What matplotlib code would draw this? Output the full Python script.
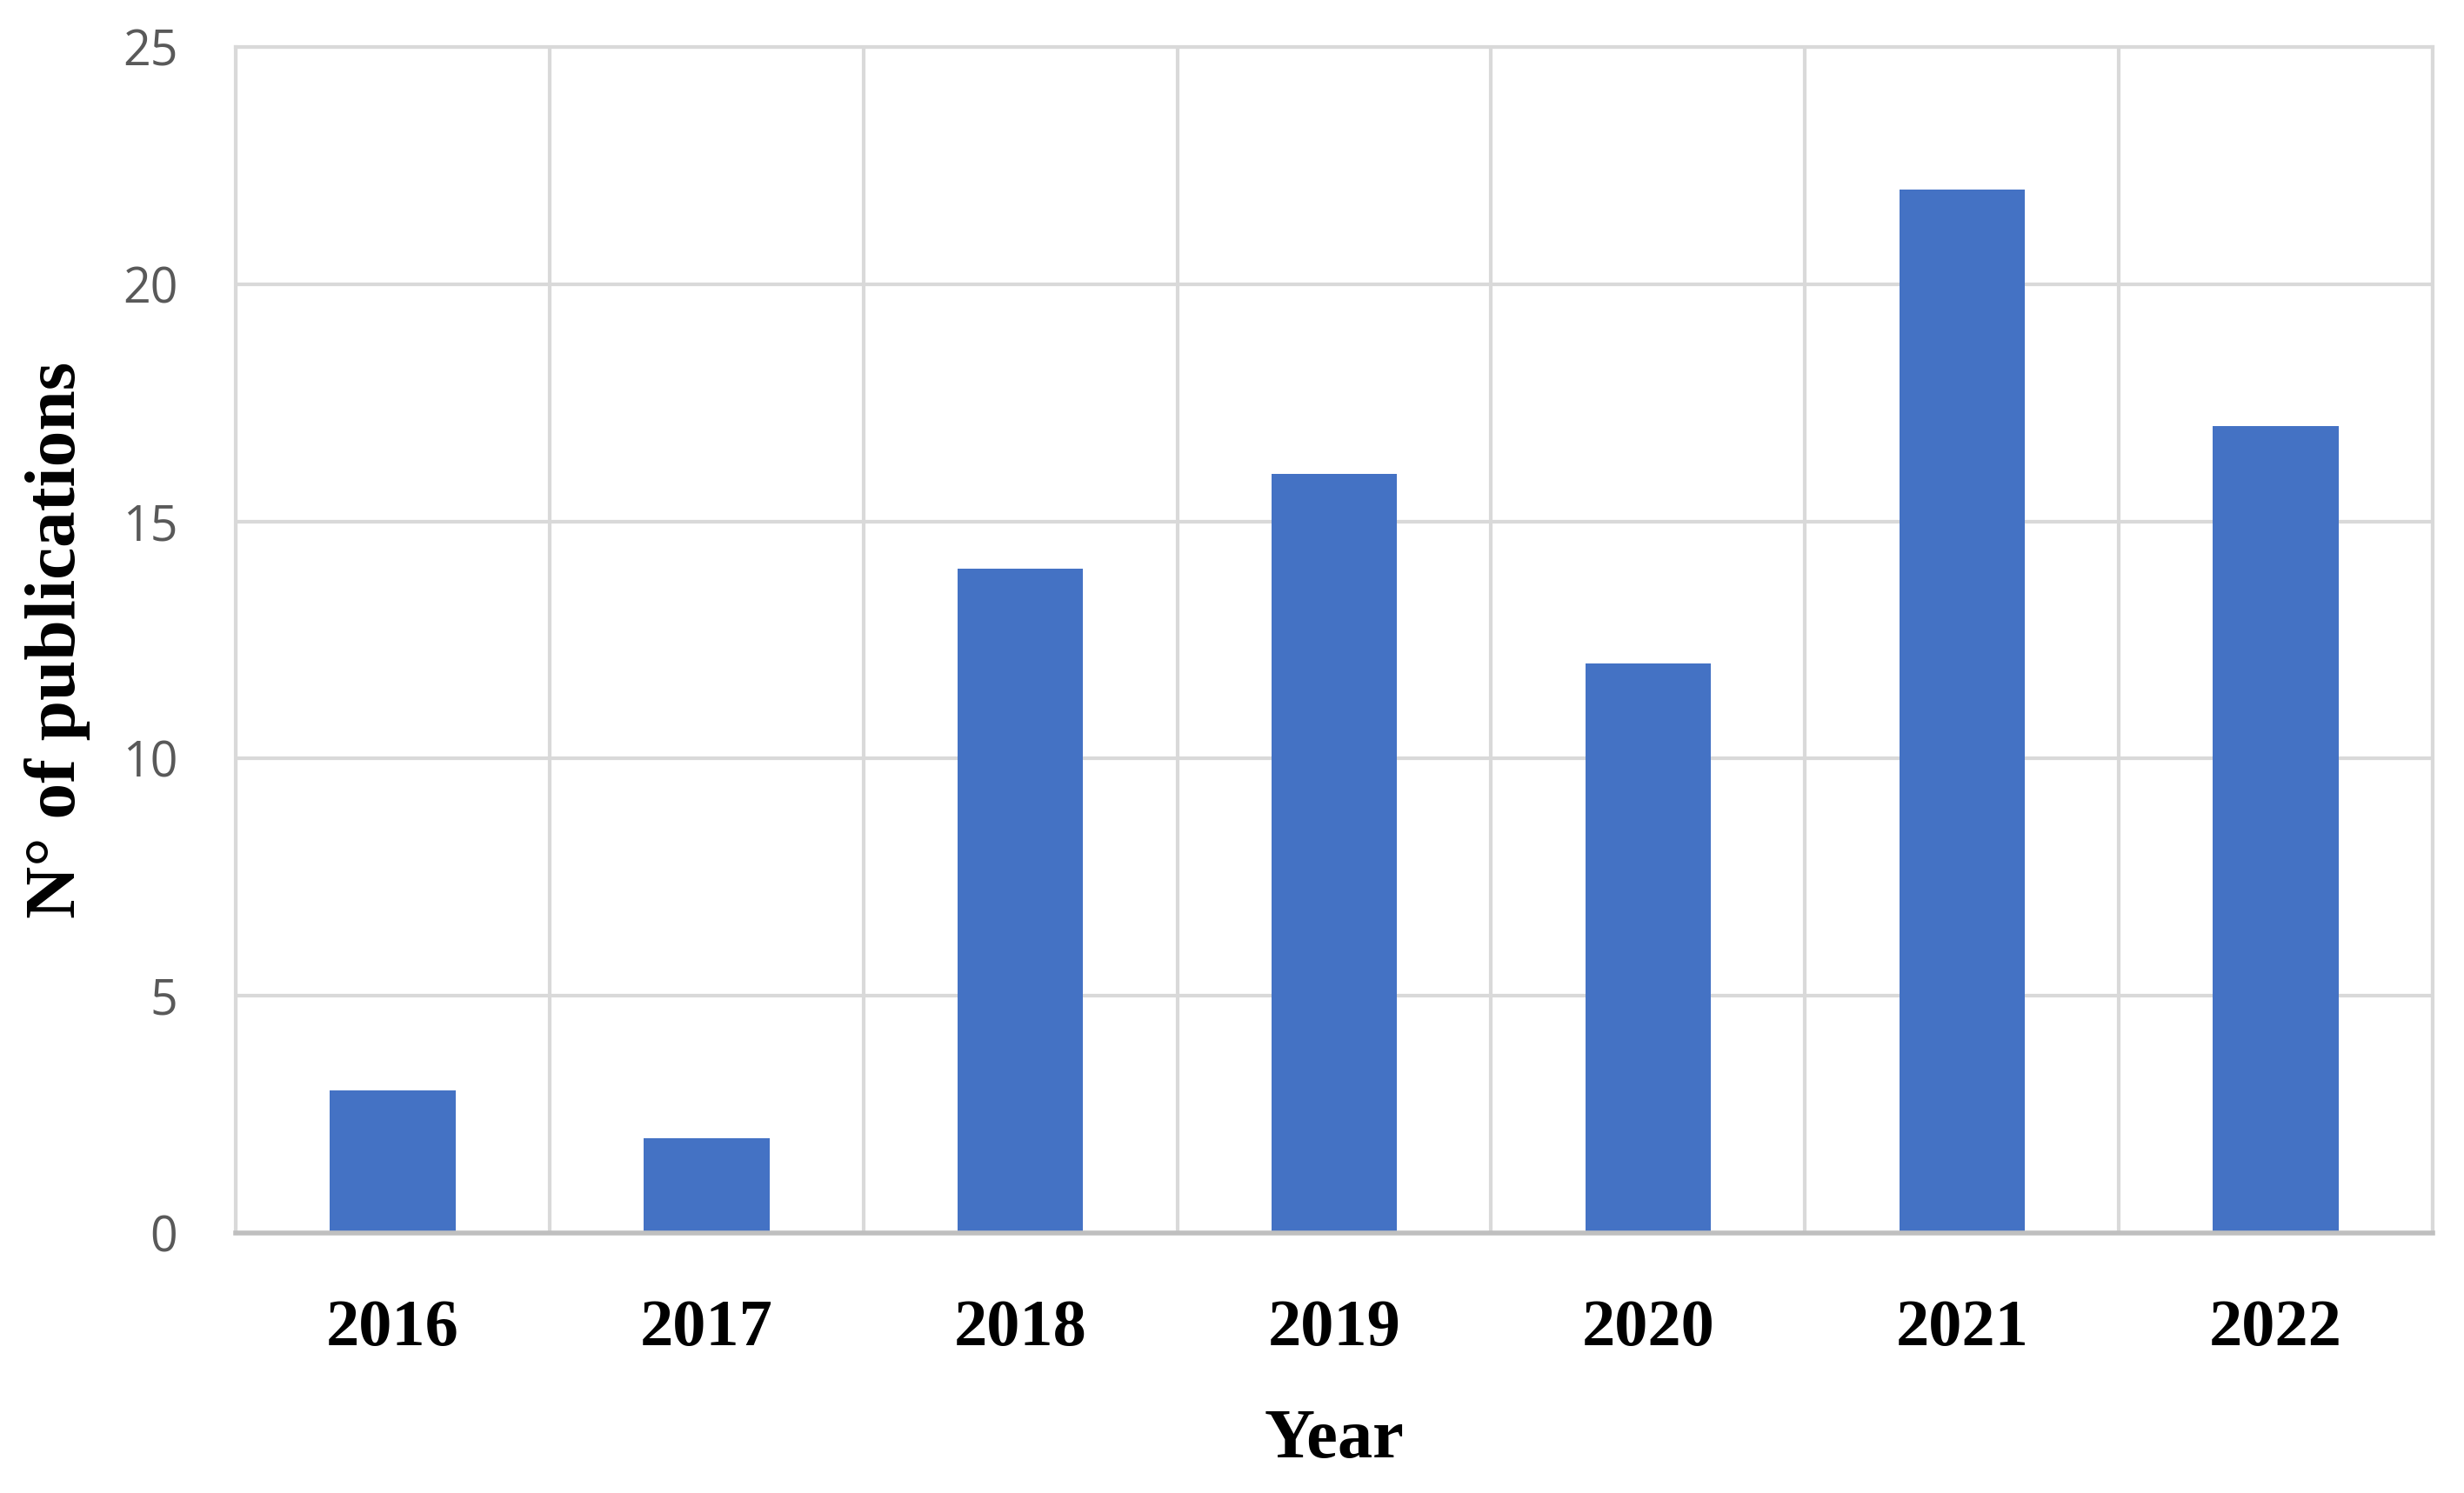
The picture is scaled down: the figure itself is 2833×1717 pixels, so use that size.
import numpy as np
import matplotlib
matplotlib.use("Agg")
from matplotlib import pyplot as plt

# Datos
years = ['2016', '2017', '2018', '2019', '2020', '2021', '2022']
publications = [3, 2, 14, 16, 12, 22, 17]
y_ticks = [0, 5, 10, 15, 20, 25]

bar_color = '#4472C4'
grid_color = '#d9d9d9'

fig = plt.figure(figsize=(28.33, 17.17), dpi=100)
ax = fig.add_axes([0.0957, 0.1742, 0.8916, 0.7944])

x = np.arange(len(years))
ax.bar(x, publications, width=0.4, color=bar_color, zorder=3)

ax.set_xlim(-0.5, len(years) - 0.5)
ax.set_ylim(0, 25)

# Grid horizontal y vertical (entre categorías)
ax.set_yticks(y_ticks)
ax.set_yticklabels([str(v) for v in y_ticks], fontfamily='Open Sans',
                   fontsize=40, color='#595959')
ax.set_xticks(x)
ax.set_xticklabels(years, fontfamily='Liberation Serif', fontweight='bold',
                   fontsize=55, color='black')
ax.set_xticks(np.arange(-0.5, len(years)), minor=True)
ax.grid(True, axis='y', which='major', color=grid_color, linewidth=3, zorder=0)
ax.grid(True, axis='x', which='minor', color=grid_color, linewidth=3, zorder=0)
ax.tick_params(axis='both', which='both', length=0)
ax.tick_params(axis='y', pad=48)
ax.tick_params(axis='x', pad=55)

for side in ['left', 'top', 'right']:
    ax.spines[side].set_color(grid_color)
    ax.spines[side].set_linewidth(3)
ax.spines['bottom'].set_color('#bfbfbf')
ax.spines['bottom'].set_linewidth(4)
ax.spines['bottom'].set_zorder(4)

ax.set_xlabel('Year', fontfamily='Liberation Serif', fontweight='bold', fontsize=58)
ax.xaxis.set_label_coords(0.5, -0.148)
ax.set_ylabel('N° of publications', fontfamily='Liberation Serif',
              fontweight='bold', fontsize=60)
ax.yaxis.set_label_coords(-0.066, 0.5)

fig.savefig('out.png', dpi=100)
